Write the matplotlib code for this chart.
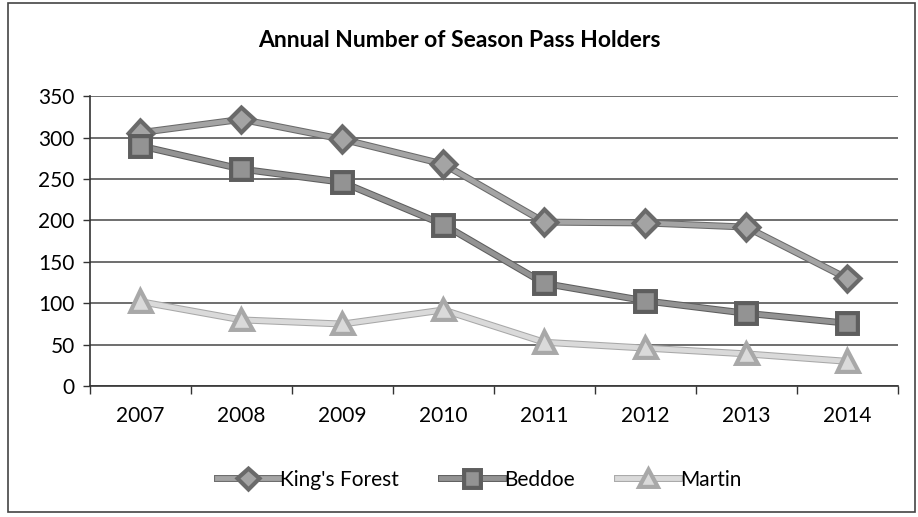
import matplotlib
matplotlib.use("Agg")
import matplotlib.pyplot as plt
import matplotlib.patheffects as pe
import numpy as np

years = ["2007", "2008", "2009", "2010", "2011", "2012", "2013", "2014"]
kings_forest = [306, 322, 298, 268, 198, 197, 192, 130]
beddoe = [290, 262, 246, 195, 124, 103, 88, 76]
martin = [102, 80, 75, 92, 53, 46, 39, 30]

plt.rcParams["font.family"] = ["Lato", "DejaVu Sans"]

fig = plt.figure(figsize=(9.18, 5.17), dpi=100)
ax = fig.add_axes([0.098, 0.253, 0.88, 0.561])

x = np.arange(len(years))
series = [
    ("King's Forest", kings_forest, "D", 11, "#a4a4a4", "#6a6a6a"),
    ("Beddoe", beddoe, "s", 13, "#939393", "#5e5e5e"),
    ("Martin", martin, "^", 12, "#dadada", "#a8a8a8"),
]
for name, vals, mk, ms, fc, ec in series:
    ax.plot(
        x, vals,
        color=fc, lw=3.5, marker=mk, markersize=ms,
        markerfacecolor=fc, markeredgecolor=ec, markeredgewidth=1,
        path_effects=[pe.Stroke(linewidth=5, foreground=ec), pe.Normal()],
        label=name, zorder=3,
    )

ax.set_xlim(-0.5, len(years) - 0.5)
ax.set_ylim(0, 350)
ax.set_yticks(np.arange(0, 351, 50))
ax.set_xticks(x)
ax.set_xticklabels(years)
ax.set_xticks(np.arange(-0.5, len(years)), minor=True)
ax.tick_params(axis="x", which="major", length=0, pad=14, labelsize=15)
ax.tick_params(axis="x", which="minor", length=6, width=1, color="#333333")
ax.tick_params(axis="y", length=5, width=1, color="#333333", labelsize=15, pad=6)

ax.grid(axis="y", color="#555555", lw=1.2)
ax.set_axisbelow(True)
for s in ["top", "right"]:
    ax.spines[s].set_visible(False)
ax.spines["left"].set_color("#333333")
ax.spines["bottom"].set_color("#333333")
ax.spines["left"].set_linewidth(1.2)
ax.spines["bottom"].set_linewidth(1.2)

fig.text(0.5, 0.922, "Annual Number of Season Pass Holders",
         ha="center", va="center", fontsize=16.5, fontweight="bold")

fig.legend(loc="center", bbox_to_anchor=(0.522, 0.072), ncol=3, frameon=False,
           fontsize=15, handlelength=3.0, columnspacing=2.0, handletextpad=0.05,
           markerscale=0.8)

# outer border of the chart area
border = plt.Rectangle((0.009, 0.01), 0.988, 0.985, transform=fig.transFigure,
                       fill=False, edgecolor="#444444", lw=1.2)
fig.patches.append(border)

fig.savefig("out.png", dpi=100)
